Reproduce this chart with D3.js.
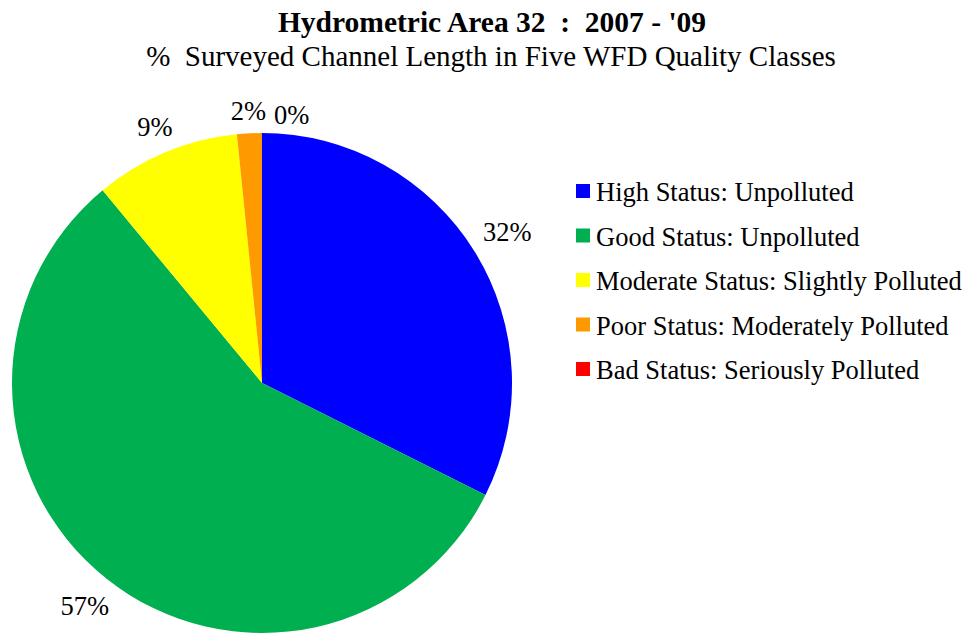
<!DOCTYPE html>
<html><head><meta charset="utf-8">
<script src="https://cdn.jsdelivr.net/npm/d3@7"></script>
<style>
body{margin:0;background:#fff;}
</style></head>
<body><svg id="c" width="967" height="635"></svg>
<script>
const categories = ["High Status: Unpolluted","Good Status: Unpolluted","Moderate Status: Slightly Polluted","Poor Status: Moderately Polluted","Bad Status: Seriously Polluted"];
const values = [32.4, 56.6, 9.4, 1.6, 0.0];
const colors = ["#0000FF","#00B050","#FFFF00","#FF9900","#FF0000"];
const title = "Hydrometric Area 32  :  2007 - '09";
const subtitle = "%  Surveyed Channel Length in Five WFD Quality Classes";

const FONT = "'Liberation Serif', 'Times New Roman', Times, serif";
const svg = d3.select("#c");
const cx = 262, cy = 383, r = 250;

svg.append("text").attr("x",492).attr("y",32).attr("text-anchor","middle")
  .style("font-family",FONT).style("white-space","pre")
  .attr("font-weight","bold").attr("font-size",29.5).text(title);
svg.append("text").attr("x",491).attr("y",66).attr("text-anchor","middle")
  .style("font-family",FONT).style("white-space","pre")
  .attr("font-size",29).text(subtitle);

const data = categories.map((c,i)=>({c, v:values[i], col:colors[i]}));
const pie = d3.pie().value(d=>d.v).sort(null);
const arcs = pie(data);
const arc = d3.arc().innerRadius(0).outerRadius(r);
const g = svg.append("g").attr("transform",`translate(${cx},${cy})`);
g.selectAll("path").data(arcs).enter().append("path")
  .attr("d",arc).attr("fill",d=>d.data.col);

const fs = 26.5;
const labels = arcs.map(a=>{
  const m = (a.startAngle+a.endAngle)/2;
  const txt = Math.round(a.data.v)+"%";
  const w = txt.length*fs*0.5 + fs*0.33;
  const h = 17;
  const s = Math.sin(m), c = Math.cos(m);
  const R = r + 13 + Math.abs(s)*w/2 + Math.abs(c)*h/2;
  return {txt, x: s*R, y: -c*R, w, h};
});
for(let i=0;i<labels.length;i++){
  for(let j=0;j<i;j++){
    const a=labels[j], b=labels[i];
    if(Math.abs(a.x-b.x) < (a.w+b.w)/2 && Math.abs(a.y-b.y) < (a.h+b.h)/2){
      b.x = a.x + (a.w+b.w)/2 + 8;
      b.y = a.y + 4;
    }
  }
}
g.selectAll("text.lbl").data(labels).enter().append("text").attr("class","lbl")
  .style("font-family",FONT)
  .attr("x",d=>d.x).attr("y",d=>d.y).attr("dy","0.35em")
  .attr("text-anchor","middle").attr("font-size",fs).text(d=>d.txt);

const ly = d3.scalePoint().domain(categories).range([191,369]);
const lg = svg.append("g");
const items = lg.selectAll("g").data(data).enter().append("g")
  .attr("transform",d=>`translate(576,${ly(d.c)})`);
items.append("rect").attr("x",0).attr("y",-7).attr("width",14).attr("height",14).attr("fill",d=>d.col);
items.append("text").style("font-family",FONT)
  .attr("x",20).attr("y",10).attr("font-size",26.5).text(d=>d.c);
</script></body></html>
